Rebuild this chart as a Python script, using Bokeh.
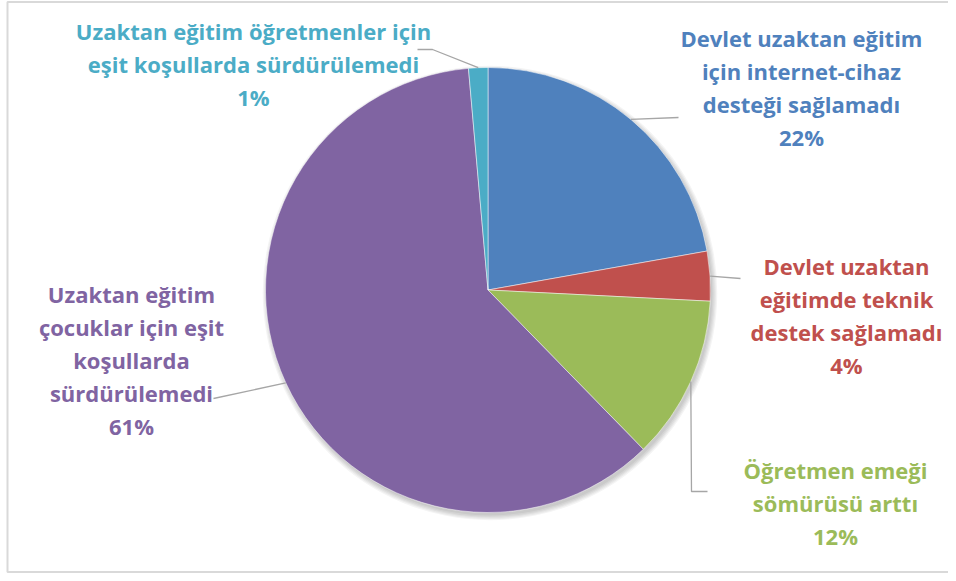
import math
from bokeh.plotting import figure
from bokeh.models import Range1d, ColumnDataSource
from bokeh.core.properties import value
from bokeh.embed import file_html
from bokeh.resources import INLINE

# ---- data ----
categories = [
    "Devlet uzaktan eğitim\niçin internet-cihaz\ndesteği sağlamadı",
    "Devlet uzaktan\neğitimde teknik\ndestek sağlamadı",
    "Öğretmen emeği\nsömürüsü arttı",
    "Uzaktan eğitim\nçocuklar için eşit\nkoşullarda\nsürdürülemedi",
    "Uzaktan eğitim öğretmenler için\neşit koşullarda sürdürülemedi",
]
shares = [22.2, 3.6, 11.9, 60.9, 1.4]
colors = ["#4F81BD", "#C0504D", "#9BBB59", "#8064A2", "#4BACC6"]

# ---- layout (screen px -> data) ----
W, H = 948, 573
def sx(x):
    return x
def sy(y):
    return H - y

CX, CY, R = sx(487.5), sy(289.5), 222.5
label_pos = [(801, 87), (846, 315), (835, 502), (131, 359), (253, 63)]
# leader line extra points (screen) after the edge point
leader_pts = [
    [(678, 117)],
    [(740, 278)],
    [(691, 491), (707, 491)],
    [(213, 398)],
    [(432, 49), (417, 49)],
]

p = figure(width=W, height=H, output_backend="svg", toolbar_location=None,
           x_range=Range1d(0, W), y_range=Range1d(0, H), min_border=0)
p.axis.visible = False
p.grid.visible = False
p.outline_line_color = None
p.background_fill_color = "white"

# chart-area border (left, top, bottom)
p.line([sx(960), sx(7), sx(7), sx(960)], [sy(1.5), sy(1.5), sy(571.5), sy(571.5)],
       line_color="#D9D9D9", line_width=2)

# soft shadow
for k in range(5):
    p.circle(x=CX + 2, y=CY - 3, radius=R + k * 1.2, fill_color="black",
             fill_alpha=0.045, line_color=None)

total = sum(shares)
starts, ends, mids = [], [], []
a = math.pi / 2
for v in shares:
    span = v / total * 2 * math.pi
    starts.append(a)
    ends.append(a - span)
    mids.append(a - span / 2)
    a -= span

src = ColumnDataSource(dict(start=starts, end=ends, color=colors))
p.wedge(x=CX, y=CY, radius=R, start_angle="start", end_angle="end",
        direction="clock", fill_color="color", line_color="white",
        line_width=0.5, source=src)

# leader lines
for m, pts in zip(mids, leader_pts):
    xs = [CX + R * math.cos(m)] + [sx(x) for x, _ in pts]
    ys = [CY + R * math.sin(m)] + [sy(y) for _, y in pts]
    p.line(xs, ys, line_color="#A6A6A6", line_width=1.3)

# labels
texts = [f"{c}\n{round(v)}%" for c, v in zip(categories, shares)]
lsrc = ColumnDataSource(dict(
    x=[sx(x) for x, _ in label_pos], y=[sy(y) for _, y in label_pos],
    text=texts, color=colors))
p.text(x="x", y="y", text="text", text_color="color", source=lsrc,
       text_font=value("Open Sans"), text_font_style="bold",
       text_font_size="22px", text_align="center", text_baseline="middle",
       text_line_height=1.1)

open("out.html", "w").write(file_html(p, INLINE))
